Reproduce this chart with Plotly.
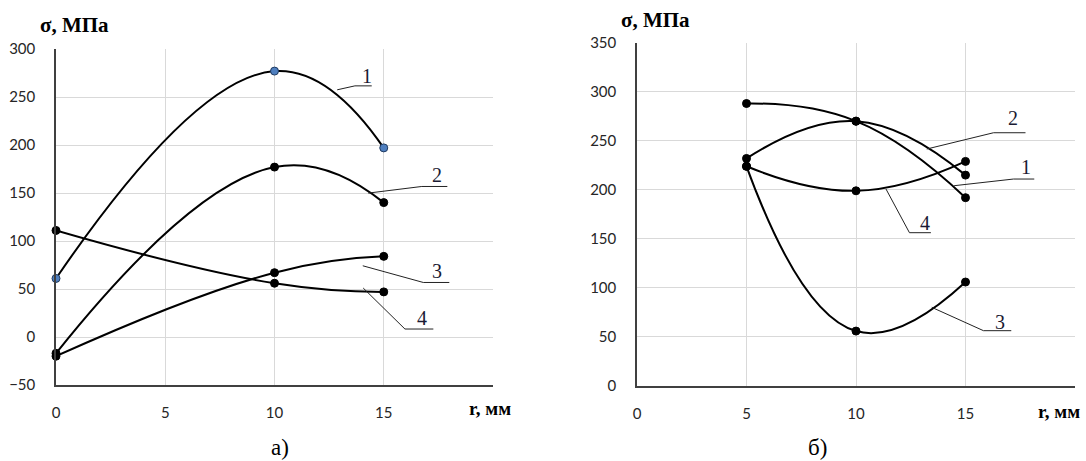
import plotly.graph_objects as go

# ---------------- data ----------------
r_a = [0, 10, 15]
a_s1 = [61, 277, 197]
a_s2 = [-17, 177, 140]
a_s3 = [-20, 67, 84]
a_s4 = [111, 56, 47]

r_b = [5, 10, 15]
b_s1 = [288, 270, 192]
b_s2 = [232, 270, 215]
b_s3 = [224, 56, 106]
b_s4 = [224, 199, 229]

x_ticks = [0, 5, 10, 15, 20]
x_ticktext = ["0", "5", "10", "15", ""]
series_names = ["1", "2", "3", "4"]

# label leader lines (data coords): start on curve -> bend -> end of underline, text pos
a_leaders = [  # (x0,y0, xb,yb, xe, tx,ty)
    (12.87, 257.5, 13.68, 261.6, 14.45, 14.22, 272),
    (14.29, 149.9, 16.74, 156.8, 17.91, 17.42, 169),
    (14.04, 74.2, 16.81, 56.8, 18.0, 17.42, 68.5),
    (14.06, 51.0, 15.97, 8.3, 17.27, 16.74, 19.5),
]
b_leaders = [
    (14.48, 204.2, 17.19, 211.0, 18.14, 17.77, 223.5),
    (13.23, 241.6, 16.28, 258.2, 17.74, 17.19, 273),
    (13.46, 80.2, 15.82, 56.4, 17.09, 16.58, 65),
    (11.37, 200.8, 12.44, 156.3, 13.42, 13.16, 166),
]

W, H = 1086, 461
BLACK = "#000000"
BLUE = "#4f7fbf"

fig = go.Figure()

def add_series(x, y, xa, ya, blue=False):
    fig.add_trace(go.Scatter(
        x=x, y=y, xaxis=xa, yaxis=ya, mode="lines+markers", cliponaxis=False,
        line=dict(color=BLACK, width=2, shape="spline", smoothing=1.3),
        marker=dict(size=8, color=BLUE if blue else BLACK,
                    line=dict(color="#1f3a60" if blue else BLACK, width=1)),
        showlegend=False, hoverinfo="skip"))

add_series(r_a, a_s1, "x", "y", blue=True)
add_series(r_a, a_s2, "x", "y")
add_series(r_a, a_s3, "x", "y")
add_series(r_a, a_s4, "x", "y")
add_series(r_b, b_s1, "x2", "y2")
add_series(r_b, b_s2, "x2", "y2")
add_series(r_b, b_s3, "x2", "y2")
add_series(r_b, b_s4, "x2", "y2")

shapes = []
annotations = []
label_font = dict(family="Liberation Serif", size=20, color="#1a1a33")
for leaders, xr, yr in [(a_leaders, "x", "y"), (b_leaders, "x2", "y2")]:
    for name, (x0, y0, xb, yb, xe, tx, ty) in zip(series_names, leaders):
        shapes.append(dict(type="line", xref=xr, yref=yr, x0=x0, y0=y0, x1=xb, y1=yb,
                           line=dict(color="#222222", width=1)))
        shapes.append(dict(type="line", xref=xr, yref=yr, x0=xb, y0=yb, x1=xe, y1=yb,
                           line=dict(color="#222222", width=1)))
        annotations.append(dict(x=tx, y=ty, xref=xr, yref=yr, text=name, showarrow=False,
                                font=label_font, xanchor="center", yanchor="middle"))

def paper_text(px, py, text, font, xanchor="center"):
    annotations.append(dict(x=px / W, y=1 - py / H, xref="paper", yref="paper", text=text,
                            showarrow=False, font=font, xanchor=xanchor, yanchor="middle"))

title_font = dict(family="Liberation Serif", size=21, color="#000000")
axis_title_font = dict(family="Liberation Serif", size=19, color="#000000")
paper_text(74, 25, "<b>σ, МПа</b>", title_font)
paper_text(655, 20, "<b>σ, МПа</b>", title_font)
paper_text(490, 408, "<b>r, мм</b>", axis_title_font)
paper_text(1059, 411, "<b>r, мм</b>", axis_title_font)
paper_text(280, 447, "а)", dict(family="Liberation Serif", size=23, color="#000"))
paper_text(817, 447, "б)", dict(family="Liberation Serif", size=23, color="#000"))

tick_font = dict(family="Lato", size=15, color="#262626")
grid = "#d9d9d9"
axis_line = "#404040"

def xaxis(domain, anchor):
    return dict(domain=domain, anchor=anchor, range=[0, 20], tickvals=x_ticks,
                ticktext=x_ticktext, showgrid=True, gridcolor=grid, gridwidth=1,
                showline=True, linecolor=axis_line, linewidth=1.5, zeroline=False,
                ticks="", tickfont=tick_font, ticklabelstandoff=13, fixedrange=True,
                automargin=False)

def yaxis(domain, anchor, rng, dtick):
    return dict(domain=domain, anchor=anchor, range=rng, dtick=dtick,
                showgrid=True, gridcolor=grid, gridwidth=1,
                showline=True, linecolor=axis_line, linewidth=1.5, zeroline=False,
                ticks="", tickfont=tick_font, ticklabelstandoff=16, fixedrange=True,
                automargin=False)

fig.update_layout(
    width=W, height=H,
    margin=dict(l=0, r=0, t=0, b=0, pad=0, autoexpand=False),
    paper_bgcolor="white", plot_bgcolor="white",
    xaxis=xaxis([56 / W, 493 / W], "y"),
    yaxis=yaxis([1 - 385 / H, 1 - 49 / H], "x", [-50, 300], 50),
    xaxis2=xaxis([637 / W, 1075 / W], "y2"),
    yaxis2=yaxis([1 - 386 / H, 1 - 42.7 / H], "x2", [0, 350], 50),
    shapes=shapes, annotations=annotations,
)

fig.write_html("out.html")
